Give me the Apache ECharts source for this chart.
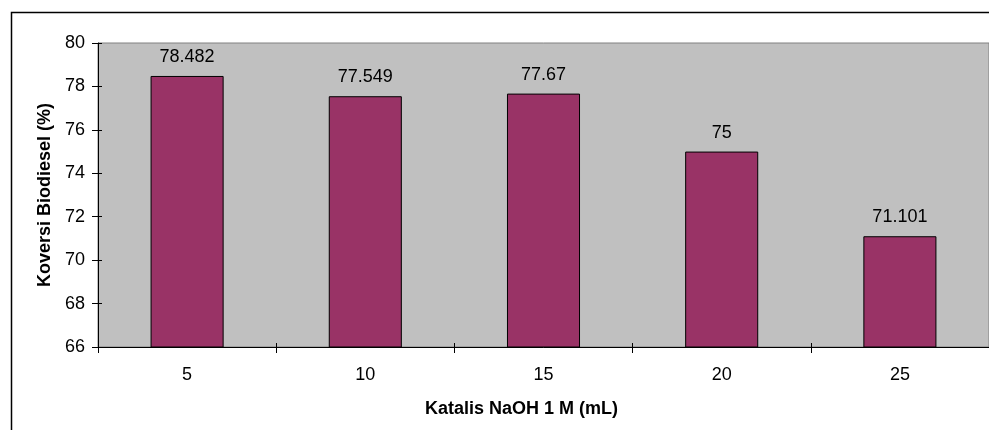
<!DOCTYPE html>
<html>
<head>
<meta charset="utf-8">
<script src="https://cdn.jsdelivr.net/npm/echarts@6/dist/echarts.min.js"></script>
<style>html,body{margin:0;padding:0;background:#fff;}#c{width:989px;height:430px;}</style>
</head>
<body>
<div id="c"></div>
<script>
const categories = ['5', '10', '15', '20', '25'];
const values = [78.482, 77.549, 77.67, 75, 71.101];
const yTicks = [66, 68, 70, 72, 74, 76, 78, 80];

const chart = echarts.init(document.getElementById('c'), null, {renderer: 'canvas'});
const font = 'Arial, "Liberation Sans", sans-serif';
const yMin = yTicks[0], yMax = yTicks[yTicks.length - 1];
chart.setOption({
  animation: false,
  backgroundColor: '#ffffff',
  graphic: [{
    type: 'rect', z: 0,
    shape: {x: 11.5, y: 12.5, width: 1100, height: 600},
    style: {fill: 'none', stroke: '#000', lineWidth: 1.5}
  }],
  grid: {
    left: 98, top: 43, right: -3, bottom: 83,
    show: true, backgroundColor: '#c0c0c0', borderColor: '#808080', borderWidth: 1
  },
  xAxis: [{
    type: 'category',
    data: categories,
    name: 'Katalis NaOH 1 M (mL)',
    nameLocation: 'middle',
    nameGap: 53,
    nameTextStyle: {fontFamily: font, fontSize: 18, fontWeight: 'bold', color: '#000', padding: [0, 44, 0, 0]},
    axisLine: {lineStyle: {color: '#000', width: 1}},
    axisTick: {show: true, alignWithLabel: false, length: 6, lineStyle: {color: '#000'}},
    axisLabel: {fontFamily: font, fontSize: 18, color: '#000', margin: 19},
    splitLine: {show: false}
  }, {
    type: 'category',
    data: categories,
    position: 'bottom',
    axisLine: {show: false},
    axisTick: {show: true, inside: true, length: 4, lineStyle: {color: '#000'}},
    axisLabel: {show: false},
    splitLine: {show: false}
  }],
  yAxis: [{
    type: 'value',
    min: yMin, max: yMax, interval: 2,
    name: 'Koversi Biodiesel (%)',
    nameLocation: 'middle',
    nameGap: 44,
    nameTextStyle: {fontFamily: font, fontSize: 18, fontWeight: 'bold', color: '#000'},
    axisLine: {show: true, lineStyle: {color: '#000', width: 1}},
    axisTick: {show: true, length: 6, lineStyle: {color: '#000'}},
    axisLabel: {fontFamily: font, fontSize: 18, color: '#000', margin: 13},
    splitLine: {show: false}
  }, {
    type: 'value',
    min: yMin, max: yMax, interval: 2,
    position: 'left',
    axisLine: {show: false},
    axisTick: {show: true, inside: true, length: 4, lineStyle: {color: '#000'}},
    axisLabel: {show: false},
    splitLine: {show: false}
  }],
  series: [{
    type: 'bar',
    data: values,
    barWidth: '41%',
    itemStyle: {color: '#993366', borderColor: '#000', borderWidth: 1},
    label: {
      show: true, position: 'top', distance: 10,
      fontFamily: font, fontSize: 18, color: '#000',
      formatter: p => String(p.value)
    }
  }]
});
</script>
</body>
</html>
